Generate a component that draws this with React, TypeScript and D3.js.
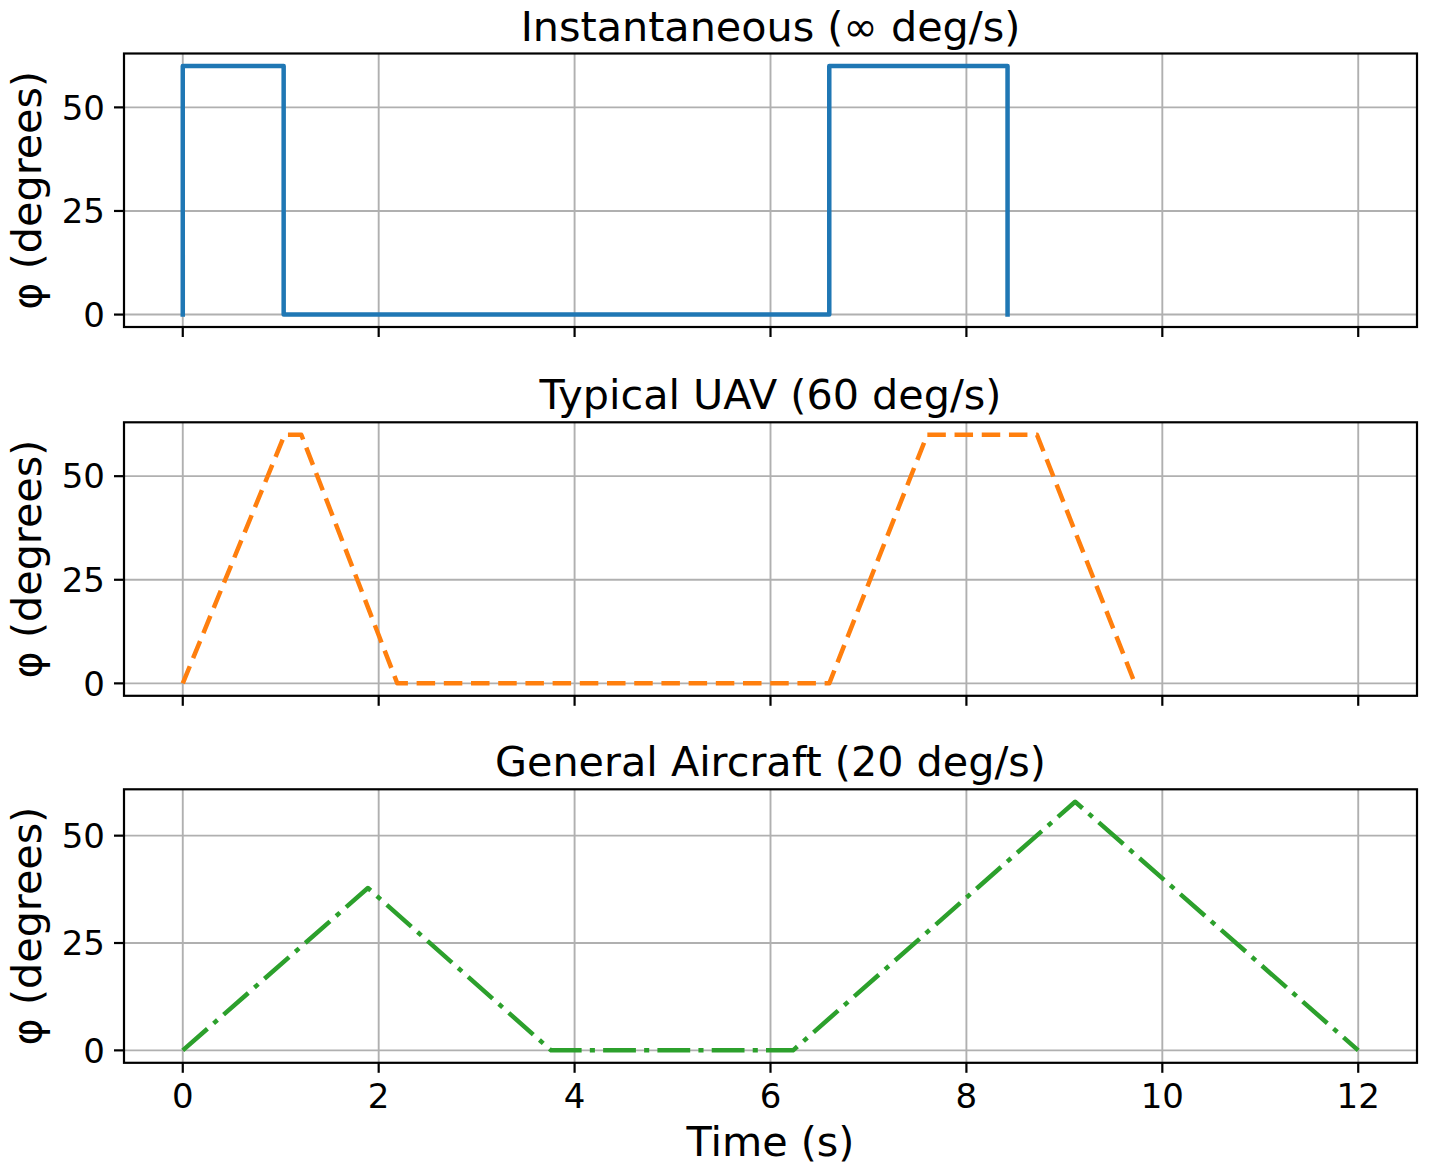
import * as d3 from "d3";
import React from "react";

// ロール角の時系列
const timeInstant = [0, 0, 1.03, 1.03, 6.6, 6.6, 8.42, 8.42];
const phiInstant = [0, 60, 60, 0, 0, 60, 60, 0];

const timeUav = [0, 1.04, 1.21, 2.19, 6.6, 7.6, 8.72, 9.72];
const phiUav = [0, 60, 60, 0, 0, 60, 60, 0];

const timeGeneral = [0, 1.89, 3.76, 6.23, 9.11, 12.0];
const phiGeneral = [0, 37.8, 0, 0, 57.9, 0];

const titles = [
  "Instantaneous (\u221e deg/s)",
  "Typical UAV (60 deg/s)",
  "General Aircraft (20 deg/s)",
];
const colors = ["#1f77b4", "#ff7f0e", "#2ca02c"];
const dashes = ["none", "18.5 8.7", "32.8 8.2 5.1 8.2"];

const xTicks = [0, 2, 4, 6, 8, 10, 12];
const yTicks = [0, 25, 50];
const yLabel = "\u03c6 (degrees)";
const xLabel = "Time (s)";

const W = 1430;
const H = 1172;
const left = 124;
const right = 1417;
const panelTops = [53.5, 422.3, 789.3];
const panelH = 273.5;
const font = "'DejaVu Sans', sans-serif";

interface Panel {
  t: number[];
  phi: number[];
  title: string;
  color: string;
  dash: string;
}

const panels: Panel[] = [
  { t: timeInstant, phi: phiInstant, title: titles[0], color: colors[0], dash: dashes[0] },
  { t: timeUav, phi: phiUav, title: titles[1], color: colors[1], dash: dashes[1] },
  { t: timeGeneral, phi: phiGeneral, title: titles[2], color: colors[2], dash: dashes[2] },
];

// 全パネル共通のX軸（matplotlib の 5% マージン）
const allT = [...timeInstant, ...timeUav, ...timeGeneral];
const tMin = d3.min(allT) || 0;
const tMax = d3.max(allT) || 0;
const tPad = (tMax - tMin) * 0.05;
const x = d3.scaleLinear().domain([tMin - tPad, tMax + tPad]).range([left, right]);

function PanelView({ p, top, showX }: { p: Panel; top: number; showX: boolean }) {
  const bottom = top + panelH;
  const lo = d3.min(p.phi) || 0;
  const hi = d3.max(p.phi) || 0;
  const pad = (hi - lo) * 0.05;
  const y = d3.scaleLinear().domain([lo - pad, hi + pad]).range([bottom, top]);
  const pts = p.t.map((t, i) => [t, p.phi[i]] as [number, number]);
  const line = d3
    .line<[number, number]>()
    .x((d) => x(d[0]))
    .y((d) => y(d[1]));
  const clipId = `clip-${top}`;

  return (
    <g>
      <defs>
        <clipPath id={clipId}>
          <rect x={left} y={top} width={right - left} height={panelH} />
        </clipPath>
      </defs>
      {/* グリッド */}
      {xTicks.map((t) => (
        <line key={`gx${t}`} x1={x(t)} x2={x(t)} y1={top} y2={bottom} stroke="#b0b0b0" strokeWidth={1.9} />
      ))}
      {yTicks.map((v) => (
        <line key={`gy${v}`} x1={left} x2={right} y1={y(v)} y2={y(v)} stroke="#b0b0b0" strokeWidth={1.9} />
      ))}
      {/* データ線 */}
      <path
        d={line(pts) || ""}
        fill="none"
        stroke={p.color}
        strokeWidth={4.5}
        strokeDasharray={p.dash}
        strokeLinejoin="round"
        strokeLinecap={p.dash === "none" ? "square" : "butt"}
        clipPath={`url(#${clipId})`}
      />
      {/* 枠 */}
      <rect x={left} y={top} width={right - left} height={panelH} fill="none" stroke="#000" strokeWidth={2.2} />
      {/* 目盛り */}
      {xTicks.map((t) => (
        <line key={`tx${t}`} x1={x(t)} x2={x(t)} y1={bottom} y2={bottom + 10} stroke="#000" strokeWidth={2.2} />
      ))}
      {yTicks.map((v) => (
        <g key={`ty${v}`}>
          <line x1={left - 10} x2={left} y1={y(v)} y2={y(v)} stroke="#000" strokeWidth={2.2} />
          <text x={left - 19} y={y(v)} dy="0.36em" textAnchor="end" fontSize={34} fill="#000">
            {v}
          </text>
        </g>
      ))}
      {showX &&
        xTicks.map((t) => (
          <text key={`lx${t}`} x={x(t)} y={bottom + 45} textAnchor="middle" fontSize={34} fill="#000">
            {t}
          </text>
        ))}
      {/* タイトル・軸ラベル */}
      <text x={(left + right) / 2} y={top - 13} textAnchor="middle" fontSize={41.3} fill="#000">
        {p.title}
      </text>
      <text
        transform={`translate(41,${top + panelH / 2}) rotate(-90)`}
        textAnchor="middle"
        fontSize={41.3}
        fill="#000"
      >
        {yLabel}
      </text>
    </g>
  );
}

export default function App() {
  return (
    <svg
      width={W}
      height={H}
      viewBox={`0 0 ${W} ${H}`}
      style={{ position: "absolute", left: 0, top: 0, background: "#fff" }}
      fontFamily={font}
    >
      <rect width={W} height={H} fill="#fff" />
      {panels.map((p, i) => (
        <PanelView key={i} p={p} top={panelTops[i]} showX={i === panels.length - 1} />
      ))}
      <text x={(left + right) / 2} y={1156} textAnchor="middle" fontSize={41.3} fill="#000">
        {xLabel}
      </text>
    </svg>
  );
}
